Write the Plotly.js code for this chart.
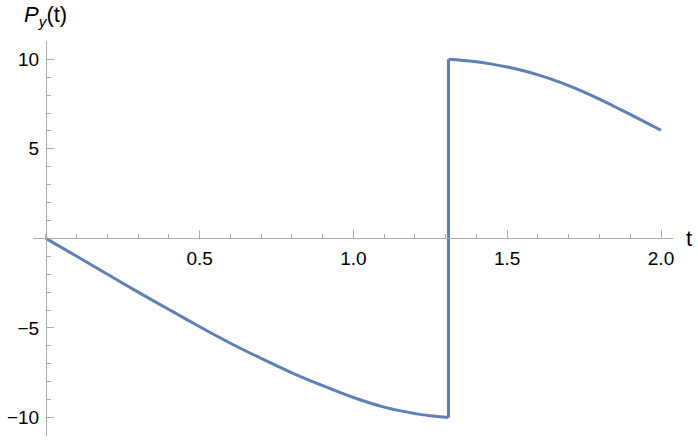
<!DOCTYPE html>
<html>
<head>
<meta charset="utf-8">
<script src="https://cdn.plot.ly/plotly-3.0.1.min.js"></script>
<style>
  html, body { margin: 0; padding: 0; background: #fff; }
  #plot { width: 698px; height: 440px; }
</style>
</head>
<body>
<div id="plot"></div>
<script>
// P_y(t): falls to -10, jumps to +10 at t ≈ 1.309, then decays to ~6
const fallT  = [0, 0.1, 0.2, 0.3, 0.4, 0.5, 0.6, 0.7, 0.8, 0.9, 1.0, 1.1, 1.2, 1.25, 1.309];
const fallPy = [0, -1.0, -2.0, -3.0, -3.97, -4.93, -5.85, -6.7, -7.5, -8.22, -8.88, -9.42, -9.78, -9.9, -10];
const riseT  = [1.309, 1.35, 1.4, 1.45, 1.5, 1.55, 1.6, 1.65, 1.7, 1.75, 1.8, 1.85, 1.9, 1.95, 2.0];
const risePy = [10, 9.95, 9.86, 9.73, 9.57, 9.37, 9.13, 8.85, 8.53, 8.17, 7.77, 7.35, 6.92, 6.48, 6.04];

const xTickVals = [0.5, 1.0, 1.5, 2.0];
const xTickText = ["0.5", "1.0", "1.5", "2.0"];
const yTickVals = [-10, -5, 5, 10];
const yTickText = ["\u221210", "\u22125", "5", "10"];

const axisGray = "#ababab";
const lineBlue = "#5e81b5";
const fontFam = "Liberation Sans, Arial, sans-serif";

// axes ranges chosen so the axis lines cross at the origin like Mathematica
const xRange = [-0.042, 2.039];
const yRange = [-11.03, 11.02];
const xZeroFrac = (0 - xRange[0]) / (xRange[1] - xRange[0]);
const yZeroFrac = (0 - yRange[0]) / (yRange[1] - yRange[0]);

const lineStyle = {color: lineBlue, width: 3};
const traces = [
  {x: fallT, y: fallPy, mode: "lines", line: {...lineStyle, shape: "spline", smoothing: 0.8}, hoverinfo: "skip"},
  // the jump at the discontinuity
  {x: [fallT[fallT.length - 1], riseT[0]], y: [fallPy[fallPy.length - 1], risePy[0]],
   mode: "lines", line: lineStyle, hoverinfo: "skip"},
  {x: riseT, y: risePy, mode: "lines", line: {...lineStyle, shape: "spline", smoothing: 0.8}, hoverinfo: "skip"}
];

const tickFont = {family: fontFam, size: 19, color: "#000"};

const layout = {
  width: 698,
  height: 440,
  paper_bgcolor: "#fff",
  plot_bgcolor: "#fff",
  margin: {l: 33, r: 25, t: 41, b: 4},
  showlegend: false,
  xaxis: {
    range: xRange,
    domain: [0, 1],
    anchor: "free",
    position: yZeroFrac,
    showgrid: false,
    zeroline: false,
    showline: true,
    linecolor: axisGray,
    linewidth: 1,
    tickmode: "array",
    tickvals: xTickVals,
    ticktext: xTickText,
    ticks: "inside",
    ticklen: 8,
    tickcolor: axisGray,
    tickfont: tickFont,
    ticklabelstandoff: 3,
    minor: {tickmode: "linear", tick0: 0, dtick: 0.1, ticks: "inside", ticklen: 4, tickcolor: axisGray}
  },
  yaxis: {
    range: yRange,
    domain: [0, 1],
    anchor: "free",
    position: xZeroFrac,
    showgrid: false,
    zeroline: false,
    showline: true,
    linecolor: axisGray,
    linewidth: 1,
    tickmode: "array",
    tickvals: yTickVals,
    ticktext: yTickText,
    ticks: "inside",
    ticklen: 7,
    tickcolor: axisGray,
    tickfont: tickFont,
    ticklabelstandoff: 3,
    minor: {tickmode: "linear", tick0: 0, dtick: 1, ticks: "inside", ticklen: 4, tickcolor: axisGray}
  },
  annotations: [
    {
      text: "<i>P</i><sub><i>y</i></sub>(t)",
      xref: "x", x: 0, xanchor: "center",
      yref: "paper", y: 1, yanchor: "bottom", yshift: 9,
      showarrow: false,
      font: {family: fontFam, size: 22, color: "#000"}
    },
    {
      text: "t",
      xref: "paper", x: 1, xanchor: "left", xshift: 11,
      yref: "y", y: 0, yanchor: "middle",
      showarrow: false,
      font: {family: fontFam, size: 22, color: "#000"}
    }
  ]
};

Plotly.newPlot("plot", traces, layout, {displayModeBar: false, staticPlot: true});
</script>
</body>
</html>
